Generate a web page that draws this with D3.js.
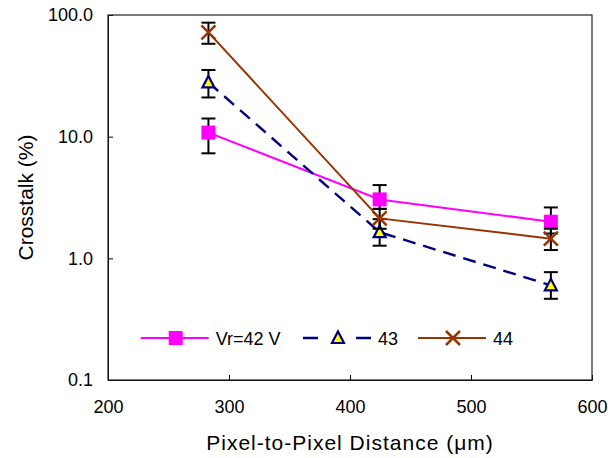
<!DOCTYPE html>
<html>
<head>
<meta charset="utf-8">
<script src="https://cdn.jsdelivr.net/npm/d3@7"></script>
<style>
  body { margin: 0; background: #fff; }
  text { font-family: "Liberation Sans", Arial, sans-serif; fill: #000; }
</style>
</head>
<body>
<div id="chart"></div>
<script>
// pixel-to-pixel distance (um)
var distances = [283, 424.5, 566];

// crosstalk (%) for each bias voltage, with error bar ends
var seriesNames = ["Vr=42 V", "43", "44"];
var vr42 = [10.8, 3.05, 2.0];
var vr42Hi = [14.1, 4.0, 2.62];
var vr42Lo = [7.3, 2.55, 1.6];
var vr43 = [27.9, 1.64, 0.6];
var vr43Hi = [35.3, 2.1, 0.77];
var vr43Lo = [21.0, 1.27, 0.465];
var vr44 = [72, 2.13, 1.45];
var vr44Hi = [86.5, 2.55, 1.75];
var vr44Lo = [58, 1.75, 1.17];

var xTicks = [200, 300, 400, 500, 600];
var yTicks = [0.1, 1, 10, 100];

var svgWidth = 608, svgHeight = 458;
var margin = { top: 15, left: 108, right: 16, bottom: 78 };
var chartWidth = svgWidth - margin.left - margin.right;
var chartHeight = svgHeight - margin.top - margin.bottom;

var svg = d3.select("#chart").append("svg")
    .attr("width", svgWidth)
    .attr("height", svgHeight);

var chartGroup = svg.append("g")
    .attr("transform", `translate(${margin.left}, ${margin.top})`);

var xScale = d3.scaleLinear().domain([200, 600]).range([0, chartWidth]);
var yScale = d3.scaleLog().domain([0.1, 100]).range([chartHeight, 0]);

// axes, ticks point inward
var xAxis = d3.axisBottom(xScale).tickValues(xTicks).tickSizeInner(-5).tickSizeOuter(0).tickPadding(20);
var yAxis = d3.axisLeft(yScale).tickValues(yTicks).tickSizeInner(-5).tickSizeOuter(0).tickPadding(15)
    .tickFormat(d3.format(".1f"));

chartGroup.append("g")
    .attr("transform", `translate(0, ${chartHeight})`)
    .call(xAxis)
    .call(g => g.selectAll("text").style("font-size", "18px").attr("font-family", null));

chartGroup.append("g")
    .call(yAxis)
    .call(g => g.selectAll("text").style("font-size", "18px").attr("font-family", null));

chartGroup.selectAll(".domain, .tick line").attr("stroke", "#000").attr("stroke-width", 1);

// plot frame
chartGroup.append("rect")
    .attr("width", chartWidth)
    .attr("height", chartHeight)
    .attr("fill", "none")
    .attr("stroke", "#222")
    .attr("stroke-width", 1.2);

// axis titles
chartGroup.append("text")
    .attr("transform", "rotate(-90)")
    .attr("x", -chartHeight / 2)
    .attr("y", -margin.left + 33)
    .style("text-anchor", "middle")
    .style("font-size", "21px")
    .text("Crosstalk (%)");

chartGroup.append("text")
    .attr("x", chartWidth / 2)
    .attr("y", chartHeight + 70)
    .style("text-anchor", "middle")
    .style("font-size", "21px")
    .style("letter-spacing", "1px")
    .text("Pixel-to-Pixel Distance (\u03bcm)");

var series = [
    { name: seriesNames[0], vals: vr42, hi: vr42Hi, lo: vr42Lo, color: "#ff00ff", dash: null, marker: "square" },
    { name: seriesNames[1], vals: vr43, hi: vr43Hi, lo: vr43Lo, color: "#000080", dash: "13,8", marker: "triangle" },
    { name: seriesNames[2], vals: vr44, hi: vr44Hi, lo: vr44Lo, color: "#993300", dash: null, marker: "cross" }
];

function drawMarker(g, type, color) {
    if (type === "square") {
        g.append("rect").attr("x", -7).attr("y", -7).attr("width", 14).attr("height", 14)
            .attr("fill", color);
    } else if (type === "triangle") {
        g.append("path").attr("d", "M0,-6.5L6,5L-6,5Z")
            .attr("fill", "#ffff00").attr("stroke", color).attr("stroke-width", 2.2);
    } else {
        g.append("path").attr("d", "M-7,-7L7,7M-7,7L7,-7")
            .attr("stroke", color).attr("stroke-width", 2.5).attr("fill", "none");
    }
}

var line = d3.line()
    .x(d => xScale(d.x))
    .y(d => yScale(d.y));

series.forEach(function(s) {
    var pts = distances.map((x, i) => ({ x: x, y: s.vals[i], hi: s.hi[i], lo: s.lo[i] }));

    chartGroup.append("path")
        .datum(pts)
        .attr("d", line)
        .attr("fill", "none")
        .attr("stroke", s.color)
        .attr("stroke-width", s.dash ? 2.4 : 2)
        .attr("stroke-dasharray", s.dash);

    var eb = chartGroup.selectAll(null).data(pts).enter().append("g")
        .attr("transform", d => `translate(${xScale(d.x)}, 0)`);
    eb.append("line").attr("y1", d => yScale(d.hi)).attr("y2", d => yScale(d.lo))
        .attr("stroke", "#000").attr("stroke-width", 2);
    eb.append("line").attr("x1", -7).attr("x2", 7).attr("y1", d => yScale(d.hi)).attr("y2", d => yScale(d.hi))
        .attr("stroke", "#000").attr("stroke-width", 2);
    eb.append("line").attr("x1", -7).attr("x2", 7).attr("y1", d => yScale(d.lo)).attr("y2", d => yScale(d.lo))
        .attr("stroke", "#000").attr("stroke-width", 2);

    chartGroup.selectAll(null).data(pts).enter().append("g")
        .attr("transform", d => `translate(${xScale(d.x)}, ${yScale(d.y)})`)
        .each(function() { drawMarker(d3.select(this), s.marker, s.color); });
});

// legend
var legendX = [140.7, 303, 418];
var legendY = 338;
series.forEach(function(s, i) {
    var lg = svg.append("g").attr("transform", `translate(${legendX[i]}, ${legendY})`);
    lg.append("line").attr("x1", 0).attr("x2", 68).attr("y1", 0).attr("y2", 0)
        .attr("stroke", s.color).attr("stroke-width", s.dash ? 2.4 : 2)
        .attr("stroke-dasharray", s.dash ? "15,38" : null);
    var m = lg.append("g").attr("transform", "translate(35, 0)");
    drawMarker(m, s.marker, s.color);
    lg.append("text").attr("x", 75).attr("y", 6.5).style("font-size", "18px").text(s.name);
});
</script>
</body>
</html>
